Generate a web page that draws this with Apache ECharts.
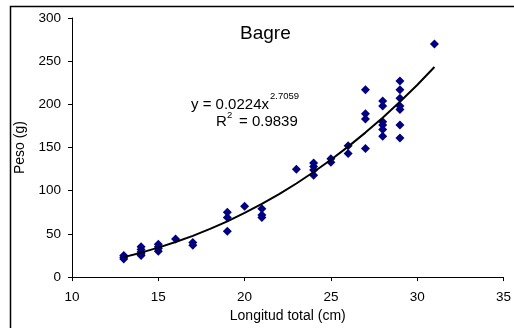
<!DOCTYPE html>
<html><head><meta charset="utf-8">
<script src="https://cdn.jsdelivr.net/npm/echarts@6/dist/echarts.min.js"></script>
<style>html,body{margin:0;padding:0;background:#fff}#c{width:514px;height:328px}</style>
</head><body><div id="c"></div>
<script>
// Observed points (longitud total cm, peso g)
const lengths = [13,13,13, 14,14,14,14,14, 15,15,15,15, 16, 17,17, 19,19,19, 20, 21,21,21, 23, 24,24,24,24, 25,25, 26,26, 27,27,27,27, 28,28,28,28,28,28, 29,29,29,29,29,29,29, 31];
const weights = [25,21,23, 35,32,29,27,25, 38,35,33,30, 44, 40,37, 75,69,53, 82, 79,72,69, 125, 132,128,124,118, 137,133, 152,143, 217,189,183,149, 204,198,180,176,171,163, 227,217,207,198,194,176,161, 270];
// Power trendline
const trendX = [13,14,15,16,17,18,19,20,21,22,23,24,25,26,27,28,29,30,31];
const trendY = [23.1,28.3,34.1,40.6,47.8,55.8,64.6,74.3,84.7,96.1,108.4,121.7,135.9,151.1,167.3,184.6,203.0,222.5,243.2];
const xTicks = [10,15,20,25,30,35];
const yTicks = [0,50,100,150,200,250,300];

const F = 'Liberation Sans, Arial, sans-serif';
const chart = echarts.init(document.getElementById('c'), null, {renderer:'canvas'});
chart.setOption({
  animation:false,
  backgroundColor:'#fff',
  grid:{left:72,right:9,top:18,bottom:49},
  title:{text:'Bagre',left:235,top:19,textStyle:{fontFamily:F,fontSize:19,fontWeight:'normal',color:'#000'}},
  xAxis:{type:'value',min:xTicks[0],max:xTicks[xTicks.length-1],interval:5,
    name:'Longitud total (cm)',nameLocation:'middle',nameGap:30,
    nameTextStyle:{fontFamily:F,fontSize:14,color:'#000'},
    axisLine:{lineStyle:{color:'#000',width:1}},
    axisTick:{show:true,inside:false,length:4,lineStyle:{color:'#000'}},
    axisLabel:{fontFamily:F,fontSize:13.5,color:'#000',margin:13},
    splitLine:{show:false}},
  yAxis:{type:'value',min:yTicks[0],max:yTicks[yTicks.length-1],interval:50,
    name:'Peso (g)',nameLocation:'middle',nameGap:39,nameRotate:90,
    nameTextStyle:{fontFamily:F,fontSize:14,color:'#000'},
    axisLine:{show:true,lineStyle:{color:'#000',width:1}},
    axisTick:{show:true,inside:false,length:4,lineStyle:{color:'#000'}},
    axisLabel:{fontFamily:F,fontSize:13.5,color:'#000',margin:11},
    splitLine:{show:false}},
  graphic:[
    {type:'rect',shape:{x:10.5,y:6.5,width:700,height:500},style:{fill:'none',stroke:'#000',lineWidth:1.5},silent:true,z:-1},
    {type:'text',left:191,top:97,style:{text:'y = 0.0224x',font:'15px '+F,fill:'#000'}},
    {type:'text',left:270,top:91,style:{text:'2.7059',font:'9.5px '+F,fill:'#000'}},
    {type:'text',left:216,top:114,style:{text:'R',font:'15px '+F,fill:'#000'}},
    {type:'text',left:227,top:110,style:{text:'2',font:'9.5px '+F,fill:'#000'}},
    {type:'text',left:239,top:114,style:{text:'= 0.9839',font:'15px '+F,fill:'#000'}}
  ],
  series:[
    {type:'scatter',symbol:'diamond',symbolSize:9,itemStyle:{color:'#000080',opacity:1},
     data:lengths.map((x,i)=>[x,weights[i]]),z:3},
    {type:'line',showSymbol:false,smooth:false,lineStyle:{color:'#000',width:2},
     data:trendX.map((x,i)=>[x,trendY[i]]),z:4}
  ]
});
</script></body></html>
